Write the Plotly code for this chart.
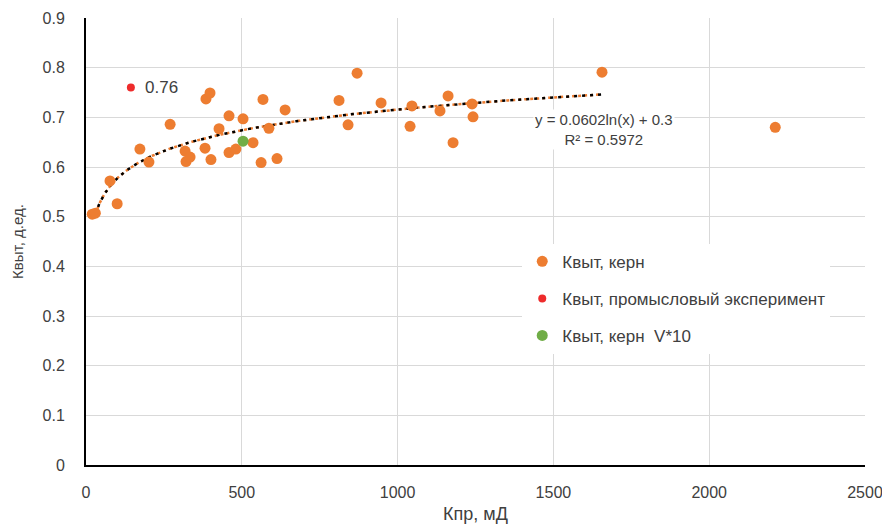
import numpy as np
import plotly.graph_objects as go

# ---- data ----
core_k = [20, 30, 77, 100, 173, 202, 270, 318, 321, 334, 385, 398, 382, 401, 427, 459, 459, 481,
          504, 536, 562, 568, 587, 613, 639, 812, 841, 870, 947, 1040, 1046, 1136, 1162, 1178,
          1239, 1242, 1656, 2212]
core_kvyt = [0.505, 0.507, 0.572, 0.526, 0.636, 0.610, 0.686, 0.632, 0.611, 0.620, 0.737, 0.749,
             0.638, 0.615, 0.677, 0.703, 0.629, 0.636, 0.697, 0.649, 0.609, 0.736, 0.678, 0.617,
             0.715, 0.734, 0.685, 0.789, 0.729, 0.682, 0.723, 0.713, 0.743, 0.649, 0.727, 0.701,
             0.791, 0.680]
field_k = [144]
field_kvyt = [0.76]
v10_k = [504]
v10_kvyt = [0.652]

trend_a = 0.0602
trend_b = 0.3
trend_r2 = 0.5972
trend_x_from = 30
trend_x_to = 1656

ORANGE = "#ED7D31"
RED = "#EE2B2B"
GREEN = "#70AD47"
FONT = "Liberation Sans"
TXT = "#404040"

tx = np.geomspace(trend_x_from, trend_x_to, 300)
ty = trend_a * np.log(tx) + trend_b

fig = go.Figure()
fig.add_trace(go.Scatter(x=tx, y=ty, mode="lines", showlegend=False, hoverinfo="skip",
                         line=dict(color=ORANGE, width=2.5, dash="dot")))
fig.add_trace(go.Scatter(x=tx, y=ty, mode="lines", showlegend=False, hoverinfo="skip",
                         line=dict(color="black", width=2.5, dash="3px,5px")))
fig.add_trace(go.Scatter(x=core_k, y=core_kvyt, mode="markers", name="Квыт, керн",
                         legendgroup="a", marker=dict(color=ORANGE, size=11)))
fig.add_trace(go.Scatter(x=field_k, y=field_kvyt, mode="markers",
                         name="Квыт, промысловый эксперимент", legendgroup="b",
                         marker=dict(color=RED, size=8)))
fig.add_trace(go.Scatter(x=v10_k, y=v10_kvyt, mode="markers", name="Квыт, керн  V*10",
                         legendgroup="c", marker=dict(color=GREEN, size=11)))

fig.add_annotation(x=field_k[0], y=field_kvyt[0], text=f"{field_kvyt[0]:.2f}", showarrow=False,
                   xanchor="left", xshift=12, bgcolor="white",
                   font=dict(family=FONT, size=17, color=TXT))
fig.add_annotation(x=1662, y=0.675, text=f"y = {trend_a}ln(x) + {trend_b}<br>R² = {trend_r2}",
                   showarrow=False, align="center", bgcolor="white",
                   font=dict(family=FONT, size=15, color=TXT))

fig.update_layout(
    width=882, height=526,
    margin=dict(l=86, r=17, t=18, b=61, autoexpand=False),
    paper_bgcolor="white", plot_bgcolor="white",
    font=dict(family=FONT, size=16, color=TXT),
    legend=dict(x=0.56, y=0.495, xanchor="left", yanchor="top", bgcolor="white",
                font=dict(family=FONT, size=17, color=TXT), tracegroupgap=12,
                itemwidth=30),
    showlegend=True,
)
fig.update_xaxes(range=[0, 2500], dtick=500, showgrid=True, gridcolor="#D9D9D9", gridwidth=1,
                 showline=True, linecolor="black", linewidth=2, zeroline=False, automargin=False,
                 ticks="outside", ticklen=12, tickcolor="rgba(0,0,0,0)", ticklabeloverflow="allow",
                 tickfont=dict(family=FONT, size=16, color=TXT),
                 title=dict(text="Кпр, мД", font=dict(family=FONT, size=18, color=TXT), standoff=7))
fig.update_yaxes(range=[0, 0.9], dtick=0.1, showgrid=True, gridcolor="#D9D9D9", gridwidth=1,
                 showline=True, linecolor="black", linewidth=2, zeroline=False, automargin=False,
                 ticks="outside", ticklen=16, tickcolor="rgba(0,0,0,0)", tickformat="~g",
                 ticklabeloverflow="allow",
                 tickfont=dict(family=FONT, size=16, color=TXT),
                 title=dict(text="Квыт, д.ед.", font=dict(family=FONT, size=15, color=TXT), standoff=15))

fig.write_html("out.html")
